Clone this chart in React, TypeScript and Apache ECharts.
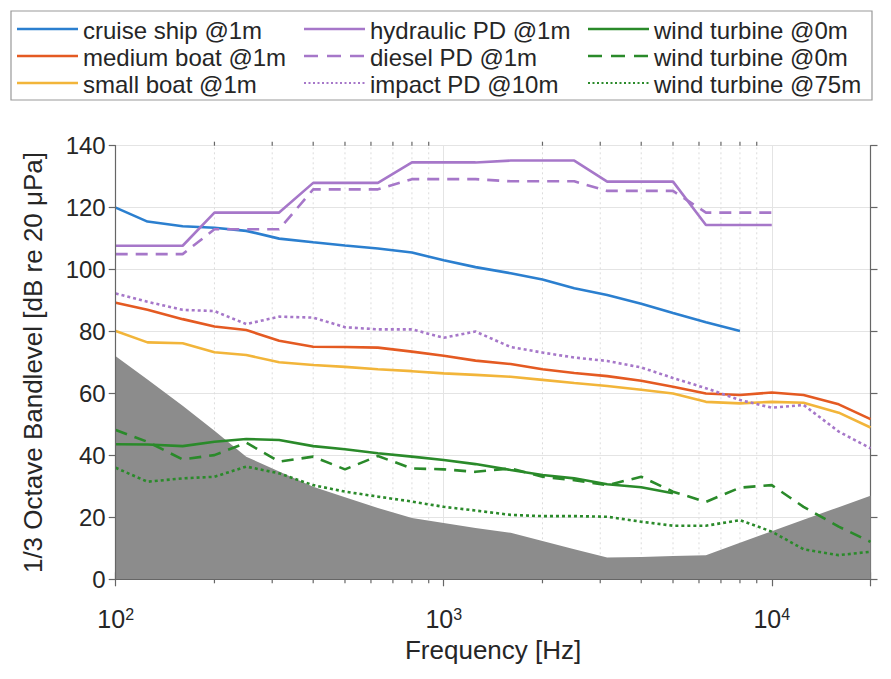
import React, { useEffect, useRef } from 'react';
import * as echarts from 'echarts';

// 1/3-octave band centre frequencies [Hz]
const freqs = [100, 125, 160, 200, 250, 315, 400, 500, 630, 800, 1000, 1250, 1600, 2000, 2500, 3150, 4000, 5000, 6300, 8000, 10000, 12500, 16000, 20000];

// Series values [dB re 20 µPa]
const cruiseShip = [120, 115.5, 114, 113.5, 112.5, 110, 108.8, 107.8, 106.8, 105.5, 103, 100.8, 98.8, 96.8, 94, 91.8, 89, 86, 83, 80.2];
const mediumBoat = [89.3, 87, 84, 81.6, 80.5, 77, 75.1, 75, 74.8, 73.5, 72.2, 70.6, 69.5, 67.8, 66.6, 65.6, 64.1, 62.2, 60, 59.5, 60.3, 59.5, 56.5, 51.7];
const smallBoat = [80.2, 76.5, 76.2, 73.3, 72.4, 70.1, 69.2, 68.6, 67.8, 67.2, 66.5, 66, 65.4, 64.4, 63.4, 62.4, 61.2, 60, 57.3, 56.8, 57.3, 57, 53.8, 49];
const hydraulicPD = [107.7, 107.7, 107.7, 118.4, 118.4, 118.4, 128, 128, 128, 134.6, 134.6, 134.6, 135.2, 135.2, 135.2, 128.4, 128.4, 128.4, 114.4, 114.4, 114.4];
const dieselPD = [105, 105, 105, 113, 113, 113, 125.9, 125.9, 125.9, 129.2, 129.2, 129.2, 128.5, 128.5, 128.5, 125.4, 125.4, 125.4, 118.4, 118.4, 118.4];
const impactPD = [92.3, 89.6, 87, 86.6, 82.4, 84.8, 84.5, 81.4, 80.7, 80.7, 78, 80, 75, 73.2, 71.6, 70.5, 68.4, 65, 61.7, 57.9, 55.4, 56.3, 47.7, 42.3];
const windTurbine0 = [43.6, 43.5, 43, 44.4, 45.3, 45, 43, 42, 40.7, 39.6, 38.5, 37.2, 35.3, 33.7, 32.6, 30.7, 29.7, 27.8];
const windTurbine0b = [48.2, 44.4, 38.7, 40.1, 44.1, 38, 39.6, 35.5, 39.8, 35.8, 35.5, 34.7, 35.8, 33.1, 32, 30.4, 33.1, 28.3, 25, 29.6, 30.4, 23.4, 17, 12.1];
const windTurbine75 = [36, 31.5, 32.6, 33.1, 36.4, 34.2, 30.4, 28.3, 26.7, 25.1, 23.4, 22.2, 20.8, 20.4, 20.4, 20.2, 18.6, 17.3, 17.3, 19.1, 15.4, 9.7, 7.8, 8.9];
const ambientNoise = [72, 64.5, 56, 48, 39.6, 34.8, 29.9, 26.5, 23, 19.8, 18.2, 16.6, 15, 12.4, 9.7, 7, 7.2, 7.5, 7.8, 11.8, 15.5, 19.2, 23.3, 27];

// Axis ticks
const xMin = 100;
const xMax = 20000;
const yMin = 0;
const yMax = 140;
const yStep = 20;
const minorFreqs = [200, 300, 400, 500, 600, 700, 800, 900, 2000, 3000, 4000, 5000, 6000, 7000, 8000, 9000];

const FONT = '"Liberation Sans", Arial, Helvetica, sans-serif';
const TXT = '#262626';
const AX = '#666666';
const DASH = [12, 8];
const DOT = [3, 3];

const C_BLUE = '#2b7fcf';
const C_ORANGE = '#e45a22';
const C_YELLOW = '#f2b53a';
const C_PURPLE = '#a677c9';
const C_GREEN = '#2a8a2a';

const defs = [
  { name: 'cruise ship @1m', vals: cruiseShip, color: C_BLUE, dash: null, col: 0, row: 0 },
  { name: 'medium boat @1m', vals: mediumBoat, color: C_ORANGE, dash: null, col: 0, row: 1 },
  { name: 'small boat @1m', vals: smallBoat, color: C_YELLOW, dash: null, col: 0, row: 2 },
  { name: 'hydraulic PD @1m', vals: hydraulicPD, color: C_PURPLE, dash: null, col: 1, row: 0 },
  { name: 'diesel PD @1m', vals: dieselPD, color: C_PURPLE, dash: 'dash', col: 1, row: 1 },
  { name: 'impact PD @10m', vals: impactPD, color: C_PURPLE, dash: 'dot', col: 1, row: 2 },
  { name: 'wind turbine @0m', vals: windTurbine0, color: C_GREEN, dash: null, col: 2, row: 0 },
  { name: 'wind turbine @0m ', vals: windTurbine0b, color: C_GREEN, dash: 'dash', col: 2, row: 1 },
  { name: 'wind turbine @75m', vals: windTurbine75, color: C_GREEN, dash: 'dot', col: 2, row: 2 },
];

const pairs = (vals: number[]) => vals.map((v, i) => [freqs[i], v]);

function buildOption() {
  const lineSeries = defs.map((d) => ({
    type: 'line',
    name: d.name,
    data: pairs(d.vals),
    showSymbol: false,
    symbol: 'none',
    z: 3,
    silent: true,
    lineStyle: {
      color: d.color,
      width: 2.6,
      type: d.dash === 'dash' ? DASH : d.dash === 'dot' ? DOT : 'solid',
      cap: 'butt',
    },
  }));

  // legend drawn as graphic
  const colX = [17, 304, 588];
  const rowY = [29, 56, 83];
  const sampleLen = 61;
  const legendChildren: any[] = [
    {
      type: 'rect',
      shape: { x: 11, y: 11, width: 861, height: 89 },
      style: { fill: '#ffffff', stroke: '#999999', lineWidth: 1.2 },
    },
  ];
  defs.forEach((d) => {
    const x = colX[d.col];
    const y = rowY[d.row];
    legendChildren.push({
      type: 'line',
      shape: { x1: x, y1: y, x2: x + sampleLen, y2: y },
      style: {
        stroke: d.color,
        lineWidth: d.dash === 'dot' ? 2 : 2.6,
        lineDash: d.dash === 'dash' ? [14, 9] : d.dash === 'dot' ? [2, 2.5] : null,
      },
    });
    legendChildren.push({
      type: 'text',
      x: x + sampleLen + 5,
      y: y + 1,
      style: {
        text: d.name.trim(),
        fill: TXT,
        fontSize: 24,
        fontFamily: FONT,
        verticalAlign: 'middle',
        align: 'left',
      },
    });
  });

  const isDecade = (v: number) => {
    const e = Math.log10(v);
    return Math.abs(e - Math.round(e)) < 1e-6;
  };

  return {
    animation: false,
    backgroundColor: '#ffffff',
    textStyle: { fontFamily: FONT },
    grid: { left: 115.7, right: 20.5, top: 145.7, bottom: 99.7 },
    xAxis: [
      {
        type: 'log',
        logBase: 10,
        min: xMin,
        max: xMax,
        position: 'bottom',
        z: 5,
        name: 'Frequency [Hz]',
        nameLocation: 'middle',
        nameGap: 58,
        nameTextStyle: { fontSize: 26, color: TXT, fontFamily: FONT },
        axisLine: { show: true, lineStyle: { color: AX, width: 1.2 } },
        axisTick: { show: true, length: 7, lineStyle: { color: AX, width: 1.2 } },
        splitLine: { show: false },
        minorTick: { show: false },
        axisLabel: {
          margin: 27,
          color: TXT,
          formatter: (v: number) => (isDecade(v) ? `{b|10}{s|${Math.round(Math.log10(v))}}` : ''),
          rich: {
            b: { fontSize: 25, lineHeight: 25, color: TXT, fontFamily: FONT, padding: [8, 0, 0, 0], verticalAlign: 'bottom' },
            s: { fontSize: 16, lineHeight: 16, color: TXT, fontFamily: FONT, verticalAlign: 'top' },
          },
        },
      },
      {
        type: 'log',
        logBase: 10,
        min: xMin,
        max: xMax,
        position: 'top',
        z: 0,
        axisLine: { show: true, lineStyle: { color: AX, width: 1.2 } },
        axisTick: { show: true, length: 7, lineStyle: { color: AX, width: 1.2 } },
        axisLabel: { show: false },
        splitLine: { show: true, lineStyle: { color: '#e4e4e4', width: 1 } },
        minorTick: { show: false },
      },
    ],
    yAxis: [
      {
        type: 'value',
        min: yMin,
        max: yMax,
        interval: yStep,
        position: 'left',
        z: 5,
        name: '1/3 Octave Bandlevel [dB re 20 μPa]',
        nameLocation: 'middle',
        nameGap: 70,
        nameTextStyle: { fontSize: 26, color: TXT, fontFamily: FONT },
        axisLine: { show: true, lineStyle: { color: AX, width: 1.2 } },
        axisTick: { show: true, length: 7, lineStyle: { color: AX, width: 1.2 } },
        axisLabel: { fontSize: 24, color: TXT, margin: 10, fontFamily: FONT },
        splitLine: { show: false },
      },
      {
        type: 'value',
        min: yMin,
        max: yMax,
        interval: yStep,
        position: 'right',
        z: 0,
        axisLine: { show: true, lineStyle: { color: AX, width: 1.2 } },
        axisTick: { show: true, length: 7, lineStyle: { color: AX, width: 1.2 } },
        axisLabel: { show: false },
        splitLine: { show: true, lineStyle: { color: '#e4e4e4', width: 1 } },
      },
    ],
    graphic: [{ type: 'group', children: legendChildren, z: 100 }],
    series: [
      {
        type: 'custom',
        name: 'minor grid',
        silent: true,
        clip: false,
        z: 1,
        data: minorFreqs.map((f) => [f, yMin]),
        encode: { x: 0, y: 1 },
        renderItem: (params: any, api: any) => {
          const f = api.value(0);
          const b = api.coord([f, yMin]);
          const t = api.coord([f, yMax]);
          return {
            type: 'group',
            children: [
              {
                type: 'line',
                shape: { x1: b[0], y1: b[1], x2: t[0], y2: t[1] },
                style: { stroke: '#dcdcdc', lineWidth: 1, lineDash: [2, 3] },
              },
              {
                type: 'line',
                shape: { x1: b[0], y1: b[1], x2: b[0], y2: b[1] + 4 },
                style: { stroke: AX, lineWidth: 1.2 },
              },
              {
                type: 'line',
                shape: { x1: t[0], y1: t[1], x2: t[0], y2: t[1] - 4 },
                style: { stroke: AX, lineWidth: 1.2 },
              },
            ],
          };
        },
      },
      {
        type: 'line',
        name: 'ambient noise',
        data: pairs(ambientNoise),
        showSymbol: false,
        symbol: 'none',
        silent: true,
        z: 2,
        lineStyle: { width: 0, color: '#8c8c8c' },
        areaStyle: { color: '#8c8c8c', opacity: 1 },
      },
      ...lineSeries,
    ],
  };
}

export default function App() {
  const ref = useRef<HTMLDivElement>(null);
  useEffect(() => {
    if (!ref.current) return;
    const chart = echarts.init(ref.current, undefined, { renderer: 'svg' });
    chart.setOption(buildOption() as any);
    return () => chart.dispose();
  }, []);
  return (
    <div
      ref={ref}
      style={{ position: 'fixed', left: 0, top: 0, width: 891, height: 679, background: '#fff' }}
    />
  );
}
